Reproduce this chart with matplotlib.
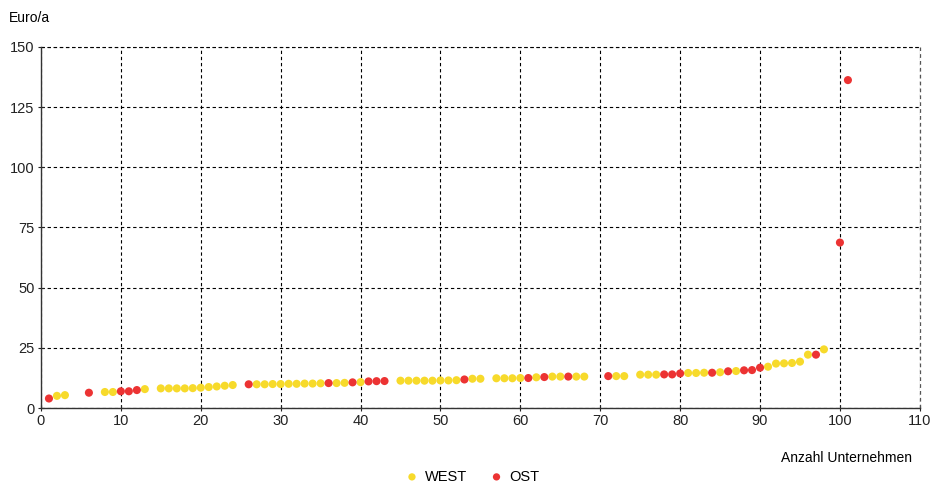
import matplotlib
matplotlib.use('Agg')
import matplotlib.pyplot as plt

plt.rcParams['font.family'] = ['Liberation Sans', 'DejaVu Sans']

# WEST (gelb)
west_x = [2, 3, 8, 9, 13, 15, 16, 17, 18, 19, 20, 21, 22, 23, 24,
          27, 28, 29, 30, 31, 32, 33, 34, 35, 37, 38, 40,
          45, 46, 47, 48, 49, 50, 51, 52, 54, 55, 57, 58, 59, 60, 62,
          64, 65, 67, 68, 72, 73, 75, 76, 77, 81, 82, 83, 85, 87,
          91, 92, 93, 94, 95, 96, 98]
west_y = [5.1, 5.4, 6.7, 6.7, 7.9, 8.2, 8.2, 8.2, 8.2, 8.3, 8.5, 8.75, 9.0, 9.3, 9.6,
          9.9, 9.9, 10.0, 10.0, 10.1, 10.1, 10.2, 10.2, 10.3, 10.4, 10.5, 10.8,
          11.4, 11.4, 11.4, 11.4, 11.4, 11.5, 11.5, 11.6, 12.2, 12.2, 12.4, 12.4, 12.4, 12.5, 12.8,
          13.1, 13.1, 13.1, 13.1, 13.3, 13.3, 13.9, 13.9, 13.9, 14.6, 14.6, 14.7, 14.9, 15.4,
          17.2, 18.5, 18.6, 18.75, 19.3, 22.2, 24.4]

# OST (rot)
ost_x = [1, 6, 10, 11, 12, 26, 36, 39, 41, 42, 43, 53, 61, 63, 66, 71,
         78, 79, 80, 84, 86, 88, 89, 90, 97, 100, 101]
ost_y = [4.0, 6.4, 7.0, 7.0, 7.5, 9.9, 10.4, 10.7, 11.1, 11.2, 11.25, 11.9, 12.5, 12.9, 13.1, 13.3,
         14.0, 14.0, 14.4, 14.7, 15.3, 15.7, 15.8, 16.8, 22.2, 68.75, 136.2]

fig = plt.figure(figsize=(9.31, 4.83), dpi=100)
ax = fig.add_axes([0.044, 0.155, 0.944, 0.748])

ax.scatter(west_x, west_y, s=34, color='#F7DA2B', edgecolors='none', label='WEST', zorder=3)
ax.scatter(ost_x, ost_y, s=34, color='#EC3333', edgecolors='none', label='OST', zorder=3)

ax.set_xlim(0, 110)
ax.set_ylim(0, 150)
ax.set_xticks(range(0, 111, 10))
ax.set_yticks(range(0, 151, 25))
ax.grid(True, color='black', linestyle=(0, (3, 2.5)), linewidth=0.8)
# Randlinien oben/rechts nicht abschneiden
ax.axvline(110, color='#555555', linestyle=(0, (3, 2.5)), linewidth=0.9, clip_on=False)
ax.axhline(150, color='black', linestyle=(0, (3, 2.5)), linewidth=0.8, clip_on=False)
ax.set_axisbelow(True)
for s in ['top', 'right']:
    ax.spines[s].set_visible(False)
for s in ['left', 'bottom']:
    ax.spines[s].set_color('#333333')
    ax.spines[s].set_linewidth(1.0)
ax.tick_params(direction='inout', length=5, width=0.8, labelsize=10.5, colors='#222222', pad=2)

fig.text(0.009, 0.962, 'Euro/a', fontsize=10, ha='left', va='center')
fig.text(0.98, 0.052, 'Anzahl Unternehmen', fontsize=10, ha='right', va='center')

fig.legend(loc='center', bbox_to_anchor=(0.508, 0.013), ncol=2, frameon=False,
           fontsize=10.5, handlelength=0.8, handletextpad=0.5, columnspacing=1.6,
           markerscale=0.9)

fig.savefig('out.png', dpi=100)
